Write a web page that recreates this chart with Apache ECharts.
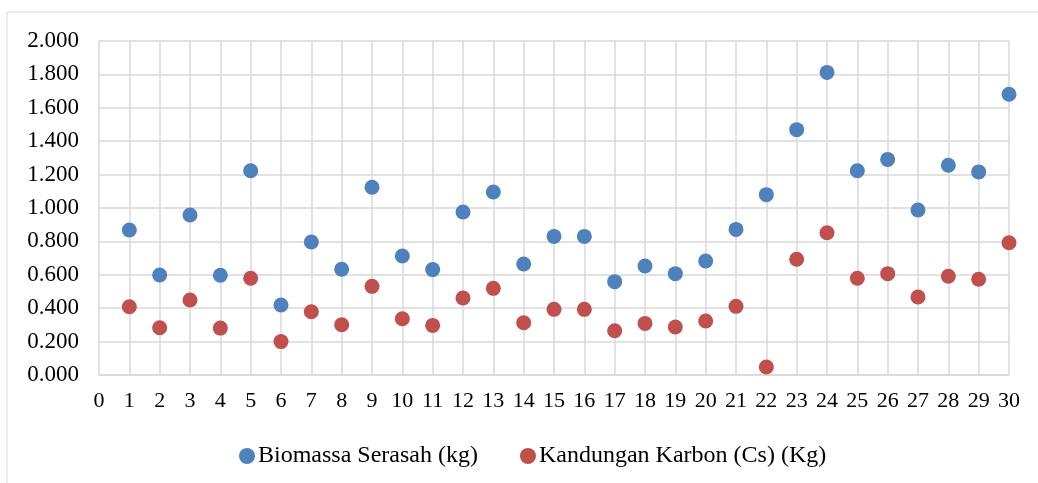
<!DOCTYPE html>
<html>
<head>
<meta charset="utf-8">
<script src="https://cdn.jsdelivr.net/npm/echarts@6/dist/echarts.min.js"></script>
<style>
  html, body { margin: 0; padding: 0; background: #fff; }
  #chart { width: 1038px; height: 483px; }
</style>
</head>
<body>
<div id="chart"></div>
<script>
// plot numbers 1..30
const plotNo = [1, 2, 3, 4, 5, 6, 7, 8, 9, 10, 11, 12, 13, 14, 15,
  16, 17, 18, 19, 20, 21, 22, 23, 24, 25, 26, 27, 28, 29, 30]

// Biomassa Serasah (kg)
const biomassa = [0.868, 0.599, 0.958, 0.597, 1.223, 0.419, 0.796, 0.633, 1.124, 0.713,
  0.631, 0.976, 1.096, 0.665, 0.830, 0.830, 0.559, 0.653, 0.607, 0.683,
  0.872, 1.080, 1.469, 1.812, 1.223, 1.291, 0.988, 1.256, 1.216, 1.681]

// Kandungan Karbon (Cs) (Kg)
const karbon = [0.409, 0.283, 0.449, 0.281, 0.579, 0.200, 0.379, 0.301, 0.531, 0.337,
  0.297, 0.461, 0.519, 0.313, 0.393, 0.393, 0.265, 0.309, 0.287, 0.323,
  0.411, 0.048, 0.693, 0.852, 0.579, 0.607, 0.467, 0.591, 0.573, 0.792]

const seriesNames = ['Biomassa Serasah (kg)', 'Kandungan Karbon (Cs) (Kg)']

const chart = echarts.init(document.getElementById('chart'))
const font = 'Liberation Serif, Times New Roman, serif'

chart.setOption({
  animation: false,
  textStyle: { fontFamily: font },
  graphic: [{
    type: 'rect',
    shape: { x: 7, y: 12, width: 1040, height: 480 },
    style: { fill: 'none', stroke: '#d9d9d9', lineWidth: 1 },
    silent: true
  }],
  grid: { left: 99, right: 29, top: 41, bottom: 108 },
  legend: {
    left: 239,
    top: 444,
    padding: 0,
    itemGap: 42,
    itemWidth: 16,
    itemHeight: 16,
    textStyle: { fontFamily: font, fontSize: 24, color: '#000', padding: [0, 0, 0, -2] },
    data: [
      { name: seriesNames[0], icon: 'circle' },
      { name: seriesNames[1], icon: 'circle' }
    ]
  },
  xAxis: {
    type: 'value',
    min: 0,
    max: 30,
    interval: 1,
    axisLine: { show: true, lineStyle: { color: '#d9d9d9', width: 1.5 } },
    axisTick: { show: false },
    axisLabel: { color: '#000', fontSize: 22, fontFamily: font, margin: 15 },
    splitLine: { show: true, lineStyle: { color: '#d9d9d9', width: 1.5 } }
  },
  yAxis: {
    type: 'value',
    min: 0,
    max: 2,
    interval: 0.2,
    axisLine: { show: false },
    axisTick: { show: false },
    axisLabel: {
      color: '#000', fontSize: 23, fontFamily: font, margin: 20,
      formatter: v => v.toFixed(3)
    },
    splitLine: { show: true, lineStyle: { color: '#d9d9d9', width: 1.5 } }
  },
  series: [
    {
      name: seriesNames[0],
      type: 'scatter',
      symbolSize: 15,
      itemStyle: { color: '#4f81bd', opacity: 1 },
      data: plotNo.map((x, i) => [x, biomassa[i]])
    },
    {
      name: seriesNames[1],
      type: 'scatter',
      symbolSize: 15,
      itemStyle: { color: '#c0504d', opacity: 1 },
      data: plotNo.map((x, i) => [x, karbon[i]])
    }
  ]
})
</script>
</body>
</html>
